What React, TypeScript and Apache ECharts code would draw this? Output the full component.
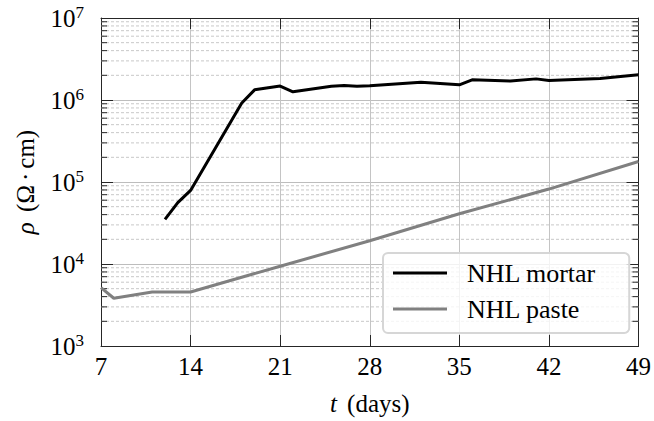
import React, { useEffect, useRef } from "react";
import * as echarts from "echarts";

const FONT = "Times New Roman, Liberation Serif, Tinos, DejaVu Serif, serif";

// NHL mortar
const mortarDays = [12, 13, 14, 18, 19, 21, 22, 25, 26, 27, 28, 32, 35, 36, 39, 41, 42, 46, 49];
const mortarRho = [
  35000, 56000, 79000, 920000, 1330000, 1480000, 1260000, 1470000, 1500000, 1470000, 1490000,
  1650000, 1530000, 1760000, 1700000, 1810000, 1730000, 1830000, 2030000,
];

// NHL paste
const pasteDays = [7, 8, 11, 14, 21, 28, 35, 42, 49];
const pasteRho = [5150, 3820, 4550, 4550, 9400, 19200, 41000, 82000, 178000];

const xTicks = [7, 14, 21, 28, 35, 42, 49];
const yMin = 1000;
const yMax = 10000000;
const decades = [1000, 10000, 100000, 1000000];
const minorMultipliers = [2, 3, 4, 5, 6, 7, 8, 9];
const minorValues = decades.flatMap((d) => minorMultipliers.map((m) => m * d));

const FRAME = "#262626";

export default function App() {
  const ref = useRef<HTMLDivElement>(null);

  useEffect(() => {
    if (!ref.current) return;
    const chart = echarts.init(ref.current, undefined, { renderer: "svg" });
    const xMin = xTicks[0];
    const xMax = xTicks[xTicks.length - 1];

    const axisLine = { show: true, onZero: false, lineStyle: { color: FRAME, width: 1 } };

    const option: any = {
      animation: false,
      backgroundColor: "#ffffff",
      textStyle: { fontFamily: FONT },
      grid: { left: 101, right: 14, top: 18, bottom: 74 },
      legend: {
        data: ["NHL mortar", "NHL paste"],
        orient: "vertical",
        left: 383,
        top: 253,
        padding: [7, 33, 11, 10],
        itemGap: 10,
        itemWidth: 54,
        itemHeight: 3,
        icon: "rect",
        backgroundColor: "rgba(255,255,255,0.8)",
        borderColor: "#d6d6d6",
        borderWidth: 2,
        borderRadius: 5,
        textStyle: {
          fontFamily: FONT,
          fontSize: 26,
          color: "#000",
          padding: [0, 0, 0, 15],
        },
      },
      xAxis: [
        {
          type: "value",
          min: xMin,
          max: xMax,
          interval: 7,
          position: "bottom",
          axisLine,
          axisTick: { show: true, inside: true, length: 11, lineStyle: { color: FRAME, width: 1 } },
          axisLabel: { margin: 8, color: "#000", fontFamily: FONT, fontSize: 25 },
          splitLine: { show: true, lineStyle: { color: "#c4c4c4", width: 1 } },
          name: "{i|t} (days)",
          nameLocation: "middle",
          nameGap: 45,
          nameTextStyle: {
            fontFamily: FONT,
            fontSize: 25,
            color: "#000",
            rich: {
              i: { fontFamily: FONT, fontSize: 25, fontStyle: "italic", color: "#000", padding: [0, 4, 0, 0] },
            },
          },
        },
        {
          type: "value",
          min: xMin,
          max: xMax,
          interval: 7,
          position: "top",
          axisLine,
          axisTick: { show: true, inside: true, length: 11, lineStyle: { color: FRAME, width: 1 } },
          axisLabel: { show: false },
          splitLine: { show: false },
        },
      ],
      yAxis: [
        {
          type: "log",
          logBase: 10,
          min: yMin,
          max: yMax,
          splitNumber: 4,
          position: "left",
          axisLine,
          axisTick: { show: true, inside: true, length: 12, lineStyle: { color: FRAME, width: 1 } },
          axisLabel: {
            margin: 17,
            color: "#000",
            fontFamily: FONT,
            formatter: (v: number) => `{b|10}{s|${Math.round(Math.log10(v))}}`,
            rich: {
              b: { fontFamily: FONT, fontSize: 25, color: "#000" },
              s: { fontFamily: FONT, fontSize: 17, color: "#000", padding: [0, 0, 11, 0] },
            },
          },
          splitLine: { show: true, lineStyle: { color: "#bdbdbd", width: 1 } },
          name: "{i|ρ} {a|(Ω}{d|·}{a|cm)}",
          nameLocation: "middle",
          nameRotate: 90,
          nameGap: 63,
          nameTextStyle: {
            fontFamily: FONT,
            fontSize: 25,
            color: "#000",
            rich: {
              i: { fontFamily: FONT, fontSize: 25, fontStyle: "italic", color: "#000", padding: [0, 4, 0, 0] },
              a: { fontFamily: FONT, fontSize: 25, color: "#000" },
              d: { fontFamily: FONT, fontSize: 25, color: "#000", padding: [0, 4, 0, 4] },
            },
          },
        },
        {
          type: "log",
          logBase: 10,
          min: yMin,
          max: yMax,
          splitNumber: 4,
          position: "right",
          axisLine,
          axisTick: { show: true, inside: true, length: 12, lineStyle: { color: FRAME, width: 1 } },
          axisLabel: { show: false },
          splitLine: { show: false },
        },
      ],
      series: [
        {
          type: "custom",
          name: "minor",
          coordinateSystem: "cartesian2d",
          xAxisIndex: 0,
          yAxisIndex: 0,
          silent: true,
          z: 1,
          encode: { x: 0, y: 1 },
          data: minorValues.map((v) => [xMin, v]),
          renderItem: (_params: any, api: any) => {
            const v = api.value(1);
            const a = api.coord([xMin, v]);
            const b = api.coord([xMax, v]);
            return {
              type: "group",
              children: [
                {
                  type: "line",
                  shape: { x1: a[0], y1: a[1], x2: b[0], y2: b[1] },
                  style: { stroke: "#c8c8c8", lineWidth: 1, lineDash: [3, 2] },
                },
                {
                  type: "line",
                  shape: { x1: a[0], y1: a[1], x2: a[0] + 6, y2: a[1] },
                  style: { stroke: FRAME, lineWidth: 1 },
                },
                {
                  type: "line",
                  shape: { x1: b[0] - 6, y1: b[1], x2: b[0], y2: b[1] },
                  style: { stroke: FRAME, lineWidth: 1 },
                },
              ],
            };
          },
        },
        {
          type: "line",
          name: "NHL mortar",
          xAxisIndex: 0,
          yAxisIndex: 0,
          data: mortarDays.map((d, i) => [d, mortarRho[i]]),
          showSymbol: false,
          symbol: "none",
          z: 5,
          color: "#000000",
          lineStyle: { color: "#000000", width: 3 },
          itemStyle: { color: "#000000" },
        },
        {
          type: "line",
          name: "NHL paste",
          xAxisIndex: 0,
          yAxisIndex: 0,
          data: pasteDays.map((d, i) => [d, pasteRho[i]]),
          showSymbol: false,
          symbol: "none",
          z: 4,
          color: "#808080",
          lineStyle: { color: "#808080", width: 3 },
          itemStyle: { color: "#808080" },
        },
      ],
    };

    chart.setOption(option);
    return () => chart.dispose();
  }, []);

  return <div ref={ref} style={{ width: 654, height: 421, position: "absolute", left: 0, top: 0 }} />;
}
